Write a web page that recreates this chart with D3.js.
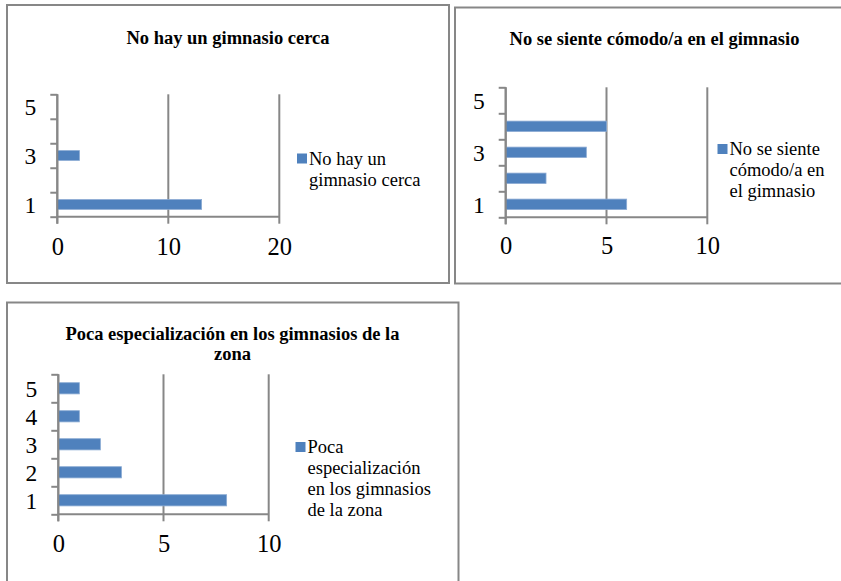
<!DOCTYPE html>
<html>
<head>
<meta charset="utf-8">
<script src="https://cdn.jsdelivr.net/npm/d3@7"></script>
<style>
  html, body { margin: 0; padding: 0; background: #fff; }
  svg { display: block; }
  svg text { font-family: "Liberation Serif", Tinos, "Times New Roman", Times, "DejaVu Serif", serif !important; fill: #000; }
</style>
</head>
<body>
<svg id="chart" width="841" height="581"></svg>
<script>
// Answers on a 1–5 scale, counted per reason
const categories = ["1", "2", "3", "4", "5"];

const cercaValues = [13, 0, 2, 0, 0];
const comodoValues = [6, 2, 4, 5, 0];
const especialValues = [8, 3, 2, 1, 1];

const cercaTickLabels = ["1", "3", "5"];
const comodoTickLabels = ["1", "3", "5"];
const especialTickLabels = ["1", "2", "3", "4", "5"];

const cercaXTicks = [0, 10, 20];
const comodoXTicks = [0, 5, 10];
const especialXTicks = [0, 5, 10];

const cercaTitle = ["No hay un gimnasio cerca"];
const comodoTitle = ["No se siente cómodo/a en el gimnasio"];
const especialTitle = ["Poca especialización en los gimnasios de la", "zona"];

const cercaLegend = ["No hay un", "gimnasio cerca"];
const comodoLegend = ["No se siente", "cómodo/a en", "el gimnasio"];
const especialLegend = ["Poca", "especialización", "en los gimnasios", "de la zona"];

const BAR = "#4F81BD";
const GREY = "#878787";
const SERIF = '"Liberation Serif", Tinos, "Times New Roman", Times, "DejaVu Serif", serif';

const svg = d3.select("#chart");
svg.append("rect").attr("width", 841).attr("height", 581).attr("fill", "#fff");

function panel(cfg) {
  const g = svg.append("g").attr("font-family", SERIF);

  // outer frame
  g.append("rect")
    .attr("x", cfg.frame[0]).attr("y", cfg.frame[1])
    .attr("width", cfg.frame[2]).attr("height", cfg.frame[3])
    .attr("fill", "none").attr("stroke", GREY).attr("stroke-width", 2);

  // title
  cfg.title.forEach((t, i) => {
    g.append("text")
      .attr("x", cfg.titleX).attr("y", cfg.titleY + i * 20)
      .attr("text-anchor", "middle")
      .attr("font-size", 18.5).attr("font-weight", "bold")
      .text(t);
  });

  const [px, py, pw, ph] = cfg.plot;
  const x = d3.scaleLinear().domain([cfg.xTicks[0], cfg.xTicks[cfg.xTicks.length - 1]]).range([px, px + pw]);
  const y = d3.scaleBand().domain(categories.slice().reverse()).range([py, py + ph])
    .paddingInner(0.6).paddingOuter(0.3);
  const yEdge = d3.scaleLinear().domain([0, categories.length]).range([py + ph, py]);

  // vertical gridlines (with tick marks below the axis)
  g.append("g").selectAll("line").data(cfg.xTicks).join("line")
    .attr("x1", d => x(d)).attr("x2", d => x(d))
    .attr("y1", py).attr("y2", py + ph + 7)
    .attr("stroke", GREY).attr("stroke-width", 2);

  // horizontal value axis line
  g.append("line")
    .attr("x1", px).attr("x2", px + pw)
    .attr("y1", py + ph).attr("y2", py + ph)
    .attr("stroke", GREY).attr("stroke-width", 2);

  // category boundary ticks
  const edgeAxis = g.append("g").attr("transform", `translate(${px},0)`)
    .call(d3.axisLeft(yEdge).ticks(categories.length).tickSize(7).tickFormat(""));
  edgeAxis.select(".domain").remove();
  edgeAxis.selectAll("line").attr("stroke", GREY).attr("stroke-width", 2);

  // bars
  g.append("g").selectAll("rect").data(cfg.values.map((v, i) => ({ c: categories[i], v })))
    .join("rect")
    .attr("x", px)
    .attr("y", d => y(d.c))
    .attr("width", d => x(d.v) - px)
    .attr("height", y.bandwidth())
    .attr("fill", BAR)
    .attr("stroke", "#8aaad3").attr("stroke-width", d => d.v > 0 ? 0.8 : 0);

  // category axis line
  g.append("line")
    .attr("x1", px).attr("x2", px)
    .attr("y1", py).attr("y2", py + ph + 7)
    .attr("stroke", GREY).attr("stroke-width", 2);

  // category labels
  const yAxis = g.append("g").attr("transform", `translate(${px - 21},0)`)
    .call(d3.axisLeft(y).tickValues(cfg.yLabels).tickSize(0).tickPadding(0));
  yAxis.attr("font-family", SERIF).select(".domain").remove();
  yAxis.selectAll("text")
    .attr("font-size", 23.5)
    .attr("fill", "#000").attr("dy", "0.36em");

  // value labels
  const xAxis = g.append("g").attr("transform", `translate(0,${cfg.xLabelY})`)
    .call(d3.axisBottom(x).tickValues(cfg.xTicks).tickSize(0).tickPadding(0).tickFormat(d3.format("d")));
  xAxis.attr("font-family", SERIF).select(".domain").remove();
  xAxis.selectAll("text")
    .attr("font-size", 24.5)
    .attr("fill", "#000").attr("dy", 0);

  // legend
  const [lx, ly] = cfg.legend;
  g.append("rect").attr("x", lx).attr("y", ly - 11).attr("width", 10).attr("height", 10).attr("fill", BAR);
  cfg.legendLines.forEach((t, i) => {
    g.append("text")
      .attr("x", lx + 12).attr("y", ly + i * 21)
      .attr("font-size", 18.5)
      .text(t);
  });
}

panel({
  frame: [7, 5, 442, 278],
  title: cercaTitle, titleX: 228, titleY: 43.5,
  plot: [57.3, 94.3, 222, 122.4],
  xTicks: cercaXTicks, values: cercaValues, yLabels: cercaTickLabels,
  xLabelY: 255,
  legend: [297, 164.5], legendLines: cercaLegend
});

panel({
  frame: [455, 7.5, 400, 276],
  title: comodoTitle, titleX: 654.5, titleY: 44.5,
  plot: [505.7, 87.3, 201.6, 130],
  xTicks: comodoXTicks, values: comodoValues, yLabels: comodoTickLabels,
  xLabelY: 253.5,
  legend: [717.5, 155], legendLines: comodoLegend
});

panel({
  frame: [7, 302.5, 451.5, 300],
  title: especialTitle, titleX: 232.5, titleY: 340,
  plot: [58.3, 374.3, 210.4, 140],
  xTicks: especialXTicks, values: especialValues, yLabels: especialTickLabels,
  xLabelY: 551.5,
  legend: [295.5, 453], legendLines: especialLegend
});
</script>
</body>
</html>
